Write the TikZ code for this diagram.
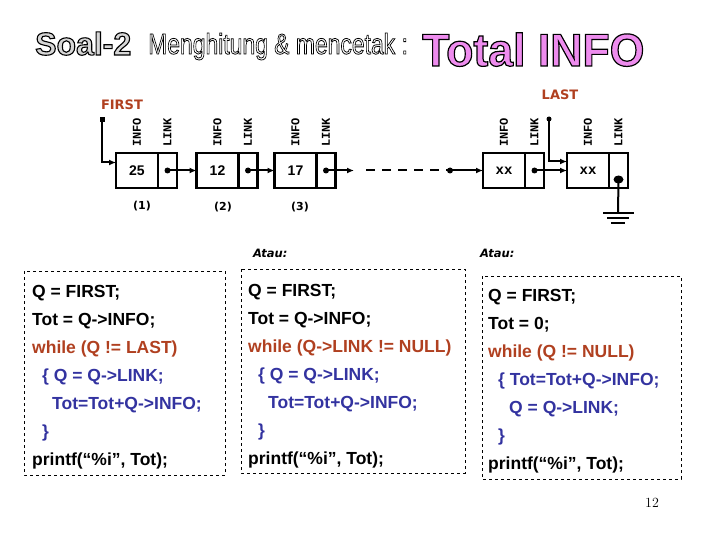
\documentclass[tikz,border=0pt]{standalone}
\usepackage{fontspec}
\newfontfamily\arialf{Liberation Sans}
\newfontfamily\monof{Liberation Mono}
\newfontfamily\dejaf{DejaVu Sans}
\usepackage{graphicx}
\usetikzlibrary{arrows.meta,calc,shapes.geometric}
\definecolor{brownred}{RGB}{176,64,32}
\definecolor{codeblue}{RGB}{51,51,160}
\definecolor{pinkv}{RGB}{238,140,238}
\definecolor{soalgray}{RGB}{215,215,215}
% outlined text: fill in current colour, black stroke
\newcommand{\outlinedtext}[3]{{\color{#1}\special{pdf:literal direct 2 Tr #2 w 0 0 0 RG}#3\special{pdf:literal direct 0 Tr}}}
\tikzset{
  infobox/.style={draw, line width=2.5pt, outer sep=0pt, inner sep=0pt,
    minimum width=42pt, minimum height=35pt, font=\arialf\bfseries\fontsize{14}{14}\selectfont},
  xxbox/.style={infobox, font=\monof\bfseries\fontsize{14}{14}\selectfont},
  linkbox/.style={draw, line width=2.5pt, outer sep=0pt, inner sep=0pt,
    minimum width=19pt, minimum height=35pt},
  fieldlbl/.style={rotate=90, anchor=west, inner sep=0pt, font=\monof\bfseries\fontsize{12}{12}\selectfont},
  numlbl/.style={inner sep=0pt, font=\dejaf\bfseries\fontsize{11}{11}\selectfont},
  ptrlbl/.style={inner sep=0pt, text=brownred, font=\dejaf\bfseries\fontsize{13}{13}\selectfont},
  arr/.style={line width=2pt, -{Latex[length=7pt,width=6pt]}},
  cdot/.style={circle, fill, inner sep=0pt, minimum size=6pt},
  sqdot/.style={rectangle, fill, inner sep=0pt, minimum size=5pt},
  codebox/.style={draw, dashed, line width=0.6pt},
  code/.style={anchor=base west, inner sep=0pt, font=\arialf\bfseries\fontsize{17.5}{17.5}\selectfont},
  wh/.style={code, text=brownred},
  bl/.style={code, text=codeblue},
  atau/.style={anchor=base west, inner sep=0pt, font=\dejaf\bfseries\itshape\fontsize{11.5}{11.5}\selectfont}
}
\begin{document}
\begin{tikzpicture}[x=1pt,y=-1pt]
\useasboundingbox (0,0) rectangle (720,540);

% ---- title ----
\node[anchor=base west, inner sep=0pt] (soal) at (35,55)
  {\arialf\bfseries\fontsize{32}{32}\selectfont\outlinedtext{soalgray}{1.1}{Soal-2}};
\node[anchor=base west, inner sep=0pt] (meng) at (148,54)
  {\arialf\fontsize{29}{29}\selectfont\scalebox{0.79}[1]{\outlinedtext{white}{0.8}{Menghitung \& mencetak :}}};
\node[anchor=base west, inner sep=0pt] (total) at (422,66)
  {\arialf\bfseries\fontsize{46}{46}\selectfont\scalebox{0.97}[1]{\outlinedtext{pinkv}{1.2}{Total INFO}}};

% ---- linked list ----
\node[infobox] (n1i) at (137,170.5) {25};
\node[linkbox, anchor=west] (n1l) at (n1i.east) {};
\node[infobox] (n2i) at (217.5,170.5) {12};
\node[linkbox, anchor=west] (n2l) at (n2i.east) {};
\node[infobox] (n3i) at (295.5,170.5) {17};
\node[linkbox, anchor=west] (n3l) at (n3i.east) {};
\node[xxbox] (n4i) at (504,170.5) {xx};
\node[linkbox, anchor=west] (n4l) at (n4i.east) {};
\node[xxbox] (n5i) at (588,170.5) {xx};
\node[linkbox, anchor=west] (n5l) at (n5i.east) {};

\foreach \n in {1,...,5}{
  \node[fieldlbl] (info\n) at ([yshift=6pt]n\n i.north) {INFO};
  \node[fieldlbl] (link\n) at ([yshift=6pt]n\n l.north) {LINK};
}

\node[numlbl] (c1) at (142,206) {(1)};
\node[numlbl] (c2) at (223,207) {(2)};
\node[numlbl] (c3) at (300,207) {(3)};

% dots in link fields
\node[cdot] (p1) at (n1l.center) {};
\node[cdot] (p2) at (n2l.center) {};
\node[cdot] (p3) at (n3l.center) {};
\node[cdot] (p4) at (n4l.center) {};
\node[ellipse, fill, inner sep=0pt, minimum width=10pt, minimum height=8pt] (p5) at ([yshift=-9pt]n5l.center) {};

\draw[arr] (p1.center) -- (n2i.west);
\draw[arr] (p2.center) -- (n3i.west);
\coordinate (e3) at (354,170.5);
\draw[arr] (p3.center) -- (e3);
\coordinate (d0) at (366,170.5);
\node[cdot] (d1) at (450,170.5) {};
\draw[line width=2pt, dash pattern=on 9pt off 7pt] (d0) -- (d1.center);
\draw[arr] (d1.center) -- (n4i.west);
\draw[arr] (p4.center) -- (n5i.west);

% FIRST pointer
\node[ptrlbl] (first) at (122,105) {FIRST};
\node[sqdot] (fdot) at (102,120) {};
\draw[arr] (fdot.center) |- ([yshift=8pt]n1i.west);

% LAST pointer
\node[ptrlbl] (last) at (560,95) {LAST};
\node[cdot, minimum size=5pt] (ldot) at (549,119) {};
\draw[arr] (ldot.center) |- ([yshift=9pt]n5i.west);

% ground
\coordinate (gnd) at (618,213);
\draw[line width=2pt] (p5.center) -- (gnd);
\draw[line width=2pt] ($(gnd)+(-15,0)$) -- ($(gnd)+(16,0)$);
\draw[line width=2pt] ($(gnd)+(-11,5)$) -- ($(gnd)+(11,5)$);
\draw[line width=2pt] ($(gnd)+(-7,10)$) -- ($(gnd)+(7,10)$);

% ---- Atau ----
\node[atau] (atau1) at (253,258) {Atau:};
\node[atau] (atau2) at (480,258) {Atau:};

% ---- code boxes ----
\draw[codebox] (24,271) rectangle (225,475);
\node[code] (a1) at (32,297) {Q = FIRST;};
\node[code] (a2) at (32,325) {Tot = Q->INFO;};
\node[wh]   (a3) at (32,353) {while (Q != LAST)};
\node[bl]   (a4) at (42,381) {\{ Q = Q->LINK;};
\node[bl]   (a5) at (52,409) {Tot=Tot+Q->INFO;};
\node[bl]   (a6) at (42,437) {\}};
\node[code] (a7) at (32,465) {printf(“\%i”, Tot);};

\draw[codebox] (241,269) rectangle (465,473);
\node[code] (b1) at (248,296) {Q = FIRST;};
\node[code] (b2) at (248,324) {Tot = Q->INFO;};
\node[wh]   (b3) at (248,352) {while (Q->LINK != NULL)};
\node[bl]   (b4) at (258,380) {\{ Q = Q->LINK;};
\node[bl]   (b5) at (268,408) {Tot=Tot+Q->INFO;};
\node[bl]   (b6) at (258,436) {\}};
\node[code] (b7) at (248,464) {printf(“\%i”, Tot);};

\draw[codebox] (482,276) rectangle (681,479);
\node[code] (q1) at (488,301) {Q = FIRST;};
\node[code] (q2) at (488,329) {Tot = 0;};
\node[wh]   (q3) at (488,357) {while (Q != NULL)};
\node[bl]   (q4) at (498,385) {\{ Tot=Tot+Q->INFO;};
\node[bl]   (q5) at (509,413) {Q = Q->LINK;};
\node[bl]   (q6) at (498,441) {\}};
\node[code] (q7) at (488,469) {printf(“\%i”, Tot);};

% page number
\node[inner sep=0pt, font=\fontsize{14}{14}\selectfont] (pg) at (652,503) {12};
\end{tikzpicture}
\end{document}
